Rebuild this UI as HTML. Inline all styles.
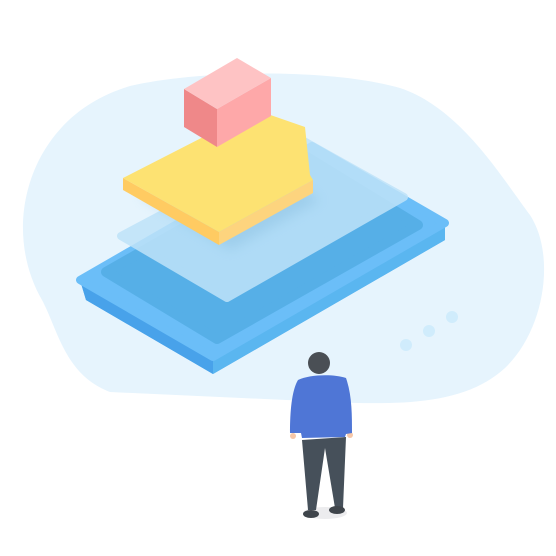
<!DOCTYPE html>
<html><head><style>html,body{margin:0;padding:0;background:#fff}svg{display:block}</style></head>
<body>
<svg width="556" height="556" viewBox="0 0 556 556" xmlns="http://www.w3.org/2000/svg">
<defs>
<filter id="b" x="-20%" y="-20%" width="140%" height="140%"><feGaussianBlur stdDeviation="6"/></filter>
</defs>
<path d="M130,86 C200,70 330,68 400,88 C460,108 500,175 530,215 C556,255 545,330 505,368 C465,405 400,405 330,402 L110,392 C65,375 58,330 42,300 C20,262 15,210 38,162 C58,122 90,98 130,86 Z" fill="#e6f4fd"/>
<polygon points="80,280 213,357 445,223 445,240 213,374 86,300" fill="#4ea9ee"/>
<polygon points="213,357 445,223 445,240 213,374" fill="#5ab6f0"/>
<polygon points="80,280 213,357 213,374 86,300" fill="#48a2ea"/>
<polygon points="80,280 312,146 445,223 213,357" fill="#6bbef8" stroke="#6bbef8" stroke-width="8" stroke-linejoin="round"/>
<polygon points="106,272 307,157 418,225 217,339" fill="#56afe7" stroke="#56afe7" stroke-width="10" stroke-linejoin="round"/>
<polygon points="121,236 302,140 404,197 227,298" fill="#bfe3f9" opacity="0.85" stroke="#bfe3f9" stroke-width="8" stroke-linejoin="round"/>
<polygon points="140,195 230,250 320,200 230,150" fill="#7fb6d8" opacity="0.35" filter="url(#b)"/>
<polygon points="123,178 219,232 219,245 123,190" fill="#ffcb62"/>
<polygon points="219,232 313,180 313,193 219,245" fill="#fdd47e"/>
<polygon points="123,178 256,110 305,127 310,175 313,180 219,232" fill="#fde272"/>
<polygon points="184,89 217,109 217,147 184,127" fill="#ef8889"/>
<polygon points="217,109 271,78 271,116 217,147" fill="#fea8a9"/>
<polygon points="184,89 237,58 271,78 217,109" fill="#fec3c4"/>
<circle cx="406" cy="345" r="6" fill="#d0ecfc"/>
<circle cx="429" cy="331" r="6" fill="#d0ecfc"/>
<circle cx="452" cy="317" r="6" fill="#d0ecfc"/>
<ellipse cx="325" cy="513" rx="22" ry="6" fill="#ececee"/>
<path d="M302,440 L346,437 L343,508 L335,508 L325,448 L316,510 L308,510 Z" fill="#46505a"/>
<ellipse cx="311" cy="514" rx="8" ry="4" fill="#3f454b"/>
<ellipse cx="337" cy="510" rx="8" ry="4" fill="#3f454b"/>
<circle cx="293" cy="436" r="3" fill="#f6c7a8"/>
<circle cx="350" cy="435" r="3" fill="#f6c7a8"/>
<path d="M298,380 C310,374 335,374 346,378 C352,395 352,415 352,433 L346,434 L345,437 L302,438 L301,433 L290,433 C290,410 292,390 298,380 Z" fill="#4f76d6"/>
<circle cx="319" cy="363" r="11" fill="#4a4f55"/>
</svg>
</body></html>
